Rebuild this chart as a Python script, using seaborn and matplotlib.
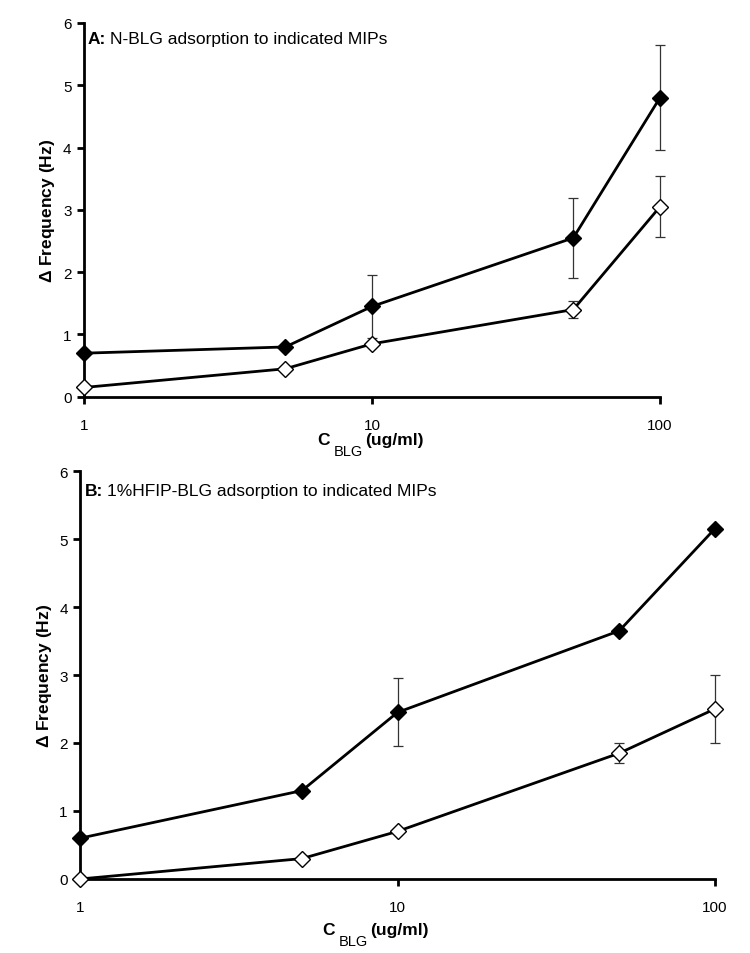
import numpy as np
import matplotlib
matplotlib.use("Agg")
import matplotlib.pyplot as plt
import seaborn as sns
import pandas as pd

# concentrations (ug/ml)
conc = [1, 5, 10, 50, 100]

# panel A: N-BLG
a_filled = [0.7, 0.8, 1.45, 2.55, 4.8]
a_filled_err = [0, 0, 0.5, 0.64, 0.84]
a_open = [0.15, 0.45, 0.85, 1.4, 3.05]
a_open_err = [0, 0, 0, 0.13, 0.49]

# panel B: 1%HFIP-BLG
b_filled = [0.6, 1.3, 2.45, 3.65, 5.15]
b_filled_err = [0, 0, 0.5, 0, 0]
b_open = [0.0, 0.3, 0.7, 1.85, 2.5]
b_open_err = [0, 0, 0, 0.15, 0.5]

titles = ["A:", "B:"]
subtitles = ["N-BLG adsorption to indicated MIPs",
             "1%HFIP-BLG adsorption to indicated MIPs"]

sns.set_style("ticks")
plt.rcParams['font.family'] = ['Liberation Sans', 'DejaVu Sans']
plt.rcParams['mathtext.fontset'] = 'custom'
plt.rcParams['mathtext.rm'] = 'Liberation Sans'
plt.rcParams['mathtext.bf'] = 'Liberation Sans:bold'
for key in ['text.color', 'axes.labelcolor', 'xtick.color', 'ytick.color',
            'axes.edgecolor']:
    plt.rcParams[key] = 'black'

W, H = 750, 954
fig = plt.figure(figsize=(7.5, 9.54), dpi=100)
ax_a = fig.add_axes([0.112, 0.583, 0.768, 0.392])
ax_b = fig.add_axes([0.107, 0.0776, 0.846, 0.4276])
renderer = fig.canvas.get_renderer()


def px(x, y):
    return x / W, 1 - y / H


# pixel anchors for titles and x labels
title_pos = [(88, 44), (85, 496)]
xlab_pos = [(317, 445), (322, 935)]

panels = [
    (ax_a, a_filled, a_filled_err, a_open, a_open_err),
    (ax_b, b_filled, b_filled_err, b_open, b_open_err),
]

for i, (ax, yf, ef, yo, eo) in enumerate(panels):
    df = pd.DataFrame({
        "conc": conc * 2,
        "freq": yf + yo,
        "err": ef + eo,
        "mip": ["filled"] * len(conc) + ["open"] * len(conc),
    })
    for mip, face in [("filled", "black"), ("open", "white")]:
        sub = df[df.mip == mip]
        ax.errorbar(sub.conc, sub.freq, yerr=sub.err, fmt="none",
                    ecolor="#333333", elinewidth=0.9, capsize=3.5,
                    capthick=0.9, zorder=2, clip_on=False)
        sns.lineplot(data=sub, x="conc", y="freq", ax=ax, color="black",
                     linewidth=2.0, marker="D", markersize=8,
                     markerfacecolor=face, markeredgecolor="black",
                     markeredgewidth=1.0, zorder=3, clip_on=False)

    ax.set_xscale("log")
    ax.set_xlim(1, 100)
    ax.set_ylim(0, 6)
    ax.set_xticks([1, 10, 100])
    ax.set_xticklabels(["1", "10", "100"])
    ax.xaxis.set_minor_locator(matplotlib.ticker.NullLocator())
    ax.set_yticks(range(0, 7))
    sns.despine(ax=ax)
    for s in ["left", "bottom"]:
        ax.spines[s].set_linewidth(2.0)
    ax.tick_params(axis="both", width=2.0, length=5, labelsize=11,
                   direction="out", pad=4)
    ax.tick_params(axis="x", pad=10)
    ax.set_ylabel(r"$\mathbf{\Delta}$ Frequency (Hz)", fontsize=12.5,
                  fontweight="bold")
    ax.set_xlabel("")

    # panel title: bold letter then regular text
    tx, ty = title_pos[i]
    t1 = fig.text(*px(tx, ty), titles[i], fontsize=12.5, fontweight="bold",
                  ha="left", va="baseline")
    w1 = t1.get_window_extent(renderer).width
    fig.text(*px(tx + w1 + 4, ty), subtitles[i], fontsize=12.5,
             ha="left", va="baseline")

    # x label: C with BLG subscript, then units
    lx, ly = xlab_pos[i]
    c = fig.text(*px(lx, ly), "C", fontsize=12.5, fontweight="bold",
                 ha="left", va="baseline")
    wc = c.get_window_extent(renderer).width
    s = fig.text(*px(lx + wc + 4, ly + 11), "BLG", fontsize=10.5,
                 ha="left", va="baseline")
    ws = s.get_window_extent(renderer).width
    fig.text(*px(lx + wc + 4 + ws + 2, ly), "(ug/ml)", fontsize=12.5,
             fontweight="bold", ha="left", va="baseline")

fig.savefig("out.png", dpi=100)
